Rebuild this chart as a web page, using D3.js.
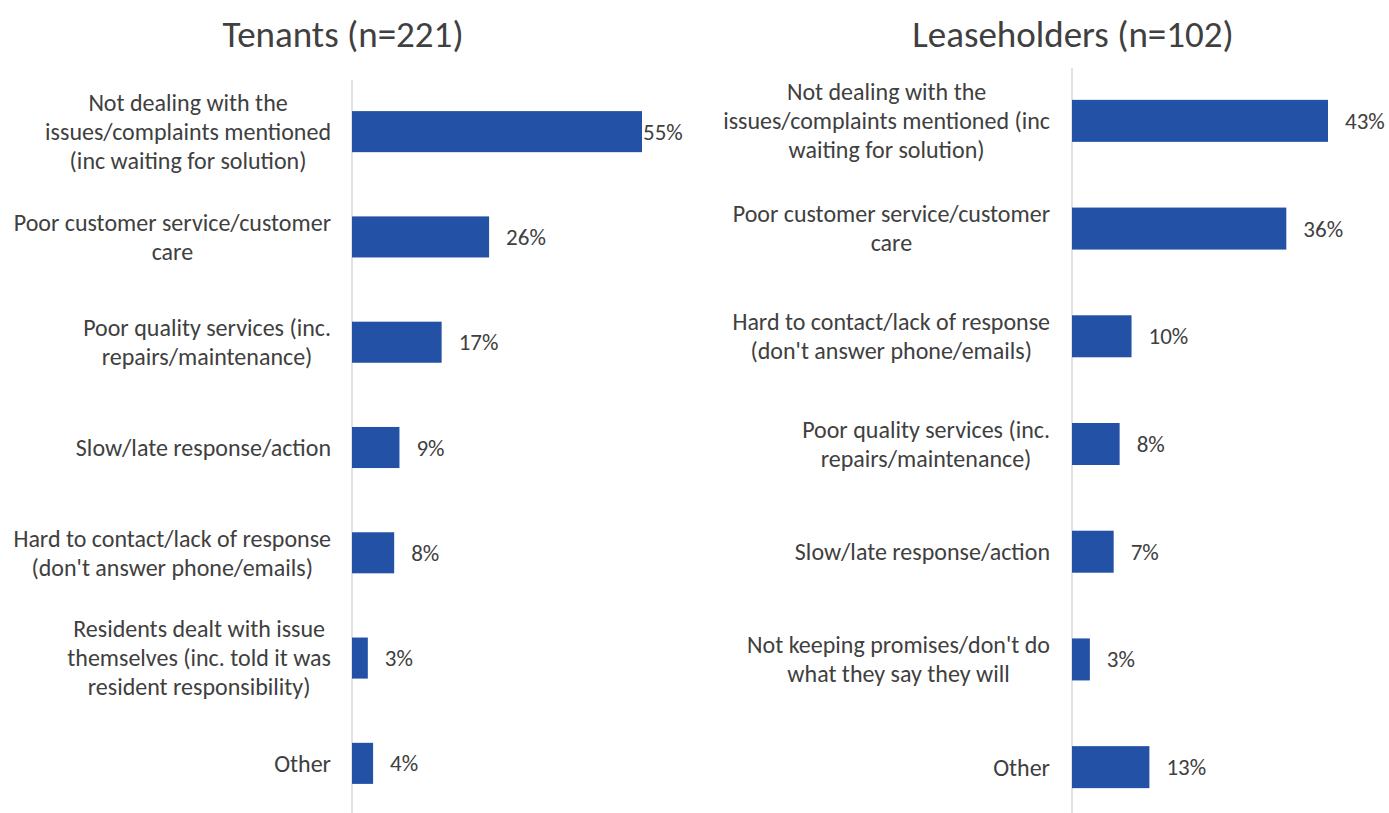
<!DOCTYPE html>
<html>
<head>
<meta charset="utf-8">
<script src="https://cdn.jsdelivr.net/npm/d3@7"></script>
<style>
  body { margin: 0; background: #fff; }
  text { font-family: Carlito, Calibri, Lato, sans-serif; fill: #404040; }
</style>
</head>
<body>
<script>
var WIDTH = 1389;
var HEIGHT = 813;

// tenants
var tenantCats = [
  ["Not dealing with the", "issues/complaints mentioned", "(inc waiting for solution)"],
  ["Poor customer service/customer", "care"],
  ["Poor quality services (inc.", "repairs/maintenance)"],
  ["Slow/late response/action"],
  ["Hard to contact/lack of response", "(don't answer phone/emails)"],
  ["Residents dealt with issue", "themselves (inc. told it was", "resident responsibility)"],
  ["Other"]
];
var tenantVals = [55, 26, 17, 9, 8, 3, 4];

// leaseholders
var leaseCats = [
  ["Not dealing with the", "issues/complaints mentioned (inc", "waiting for solution)"],
  ["Poor customer service/customer", "care"],
  ["Hard to contact/lack of response", "(don't answer phone/emails)"],
  ["Poor quality services (inc.", "repairs/maintenance)"],
  ["Slow/late response/action"],
  ["Not keeping promises/don't do", "what they say they will"],
  ["Other"]
];
var leaseVals = [43, 36, 10, 8, 7, 3, 13];

var svg = d3.select("body").append("svg")
  .attr("width", WIDTH)
  .attr("height", HEIGHT);

var drawPanel = function(opts) {
  var g = svg.append("g");
  var x = d3.scaleLinear().domain([0, opts.max]).range([opts.x0, opts.x1]);
  var y = d3.scaleBand()
    .domain(d3.range(opts.vals.length))
    .range([opts.y0, opts.y1])
    .paddingInner(0.61)
    .paddingOuter(0.305);

  g.append("text")
    .attr("x", opts.titleX)
    .attr("y", 47)
    .attr("text-anchor", "middle")
    .style("font-size", "37px")
    .text(opts.title);

  // axis line
  g.append("line")
    .attr("x1", opts.x0).attr("x2", opts.x0)
    .attr("y1", opts.lineTop).attr("y2", HEIGHT)
    .attr("stroke", "#d9d9d9")
    .attr("stroke-width", 1.5);

  g.selectAll("rect.bar")
    .data(opts.vals)
    .enter().append("rect")
    .classed("bar", true)
    .attr("x", x(0))
    .attr("y", (d, i) => y(i))
    .attr("width", d => x(d) - x(0))
    .attr("height", y.bandwidth())
    .attr("fill", "#2251a5");

  // labels that would run past the plot edge get pulled in (Excel does this)
  g.selectAll("text.val")
    .data(opts.vals)
    .enter().append("text")
    .classed("val", true)
    .attr("x", d => Math.min(x(d) + 17, opts.labelMax))
    .attr("y", (d, i) => y(i) + y.bandwidth() / 2)
    .attr("dy", "0.35em")
    .style("font-size", "23px")
    .text(d => d + "%");

  var lh = 29;
  opts.cats.forEach(function(lines, i) {
    var cy = y(i) + y.bandwidth() / 2;
    var t = g.append("text")
      .attr("text-anchor", "middle")
      .style("font-size", "24px");
    var spans = lines.map(function(s, k) {
      return t.append("tspan")
        .attr("y", cy + (k - (lines.length - 1) / 2) * lh)
        .attr("dy", "0.35em")
        .text(s);
    });
    var maxW = d3.max(spans, s => s.node().getComputedTextLength());
    spans.forEach(s => s.attr("x", opts.labelRight - maxW / 2));
  });
};

drawPanel({
  title: "Tenants (n=221)", titleX: 343,
  cats: tenantCats, vals: tenantVals,
  max: 55, x0: 352, x1: 642,
  y0: 79, y1: 816, lineTop: 80,
  labelRight: 331, labelMax: 643
});

drawPanel({
  title: "Leaseholders (n=102)", titleX: 1073,
  cats: leaseCats, vals: leaseVals,
  max: 43, x0: 1072, x1: 1328,
  y0: 67, y1: 821, lineTop: 68,
  labelRight: 1050, labelMax: WIDTH
});
</script>
</body>
</html>
